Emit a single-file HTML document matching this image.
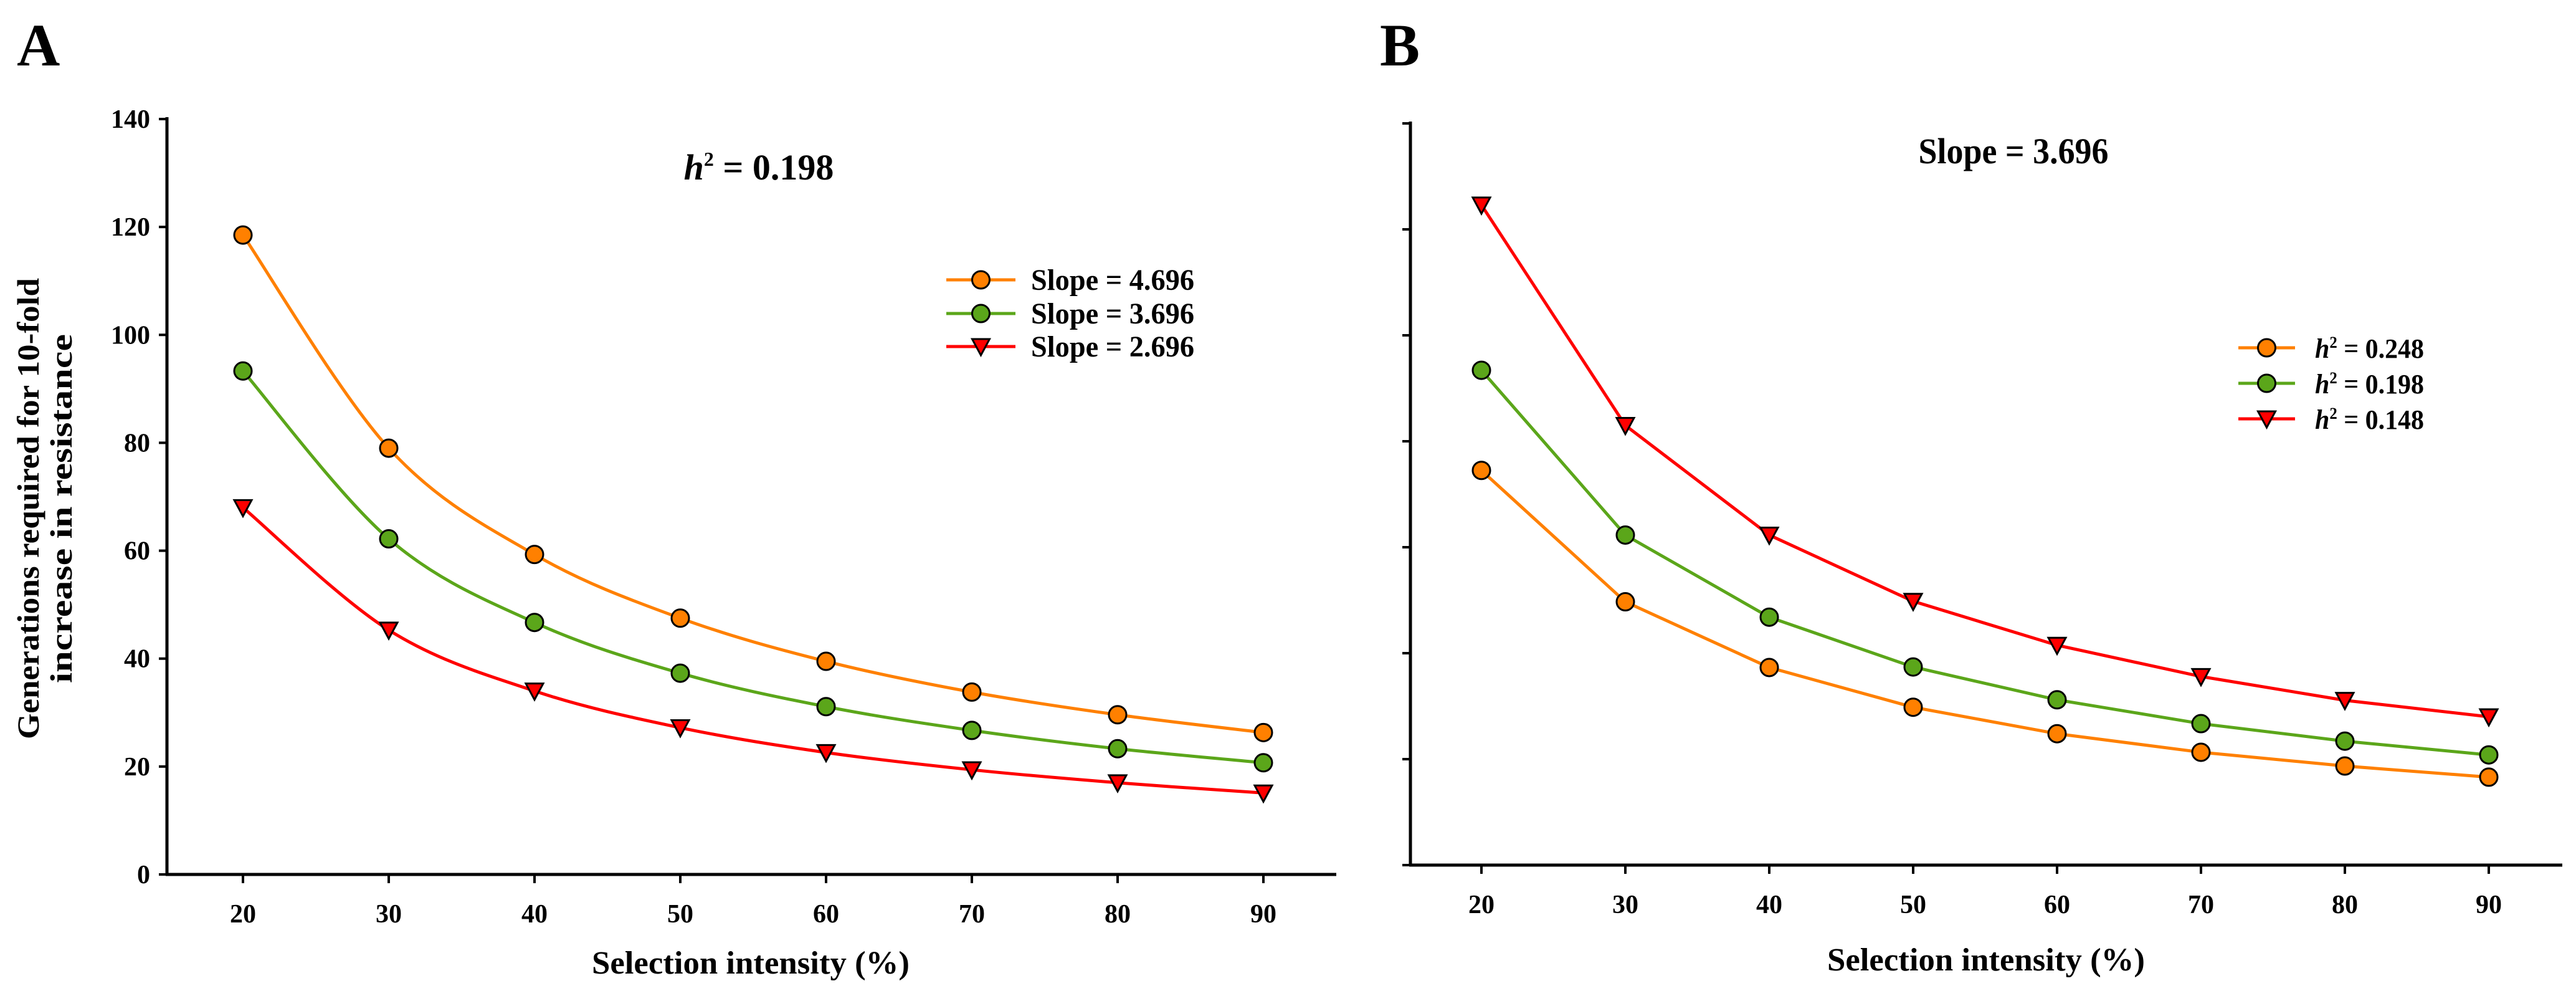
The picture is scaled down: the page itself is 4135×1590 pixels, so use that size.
<!DOCTYPE html>
<html><head><meta charset="utf-8"><style>
html,body{margin:0;padding:0;background:#fff;}
svg{display:block;font-family:"Liberation Serif",serif;font-weight:bold;}
</style></head><body>
<svg id="chart" width="4135" height="1590" viewBox="0 0 4135 1590" xmlns="http://www.w3.org/2000/svg"></svg>
<script>
const categories=[20,30,40,50,60,70,80,90];
const yTicks=[0,20,40,60,80,100,120,140];
const aOrange=[118.5,79.0,59.3,47.5,39.5,33.8,29.6,26.3];
const aGreen=[93.3,62.2,46.7,37.3,31.1,26.7,23.3,20.7];
const aRed=[68.0,45.3,34.0,27.2,22.6,19.4,17.0,15.1];
const bOrange=[74.5,49.7,37.3,29.8,24.8,21.3,18.7,16.6];
const bGreen=[93.4,62.3,46.8,37.4,31.2,26.7,23.4,20.8];
const bRed=[124.6,83.0,62.3,49.8,41.5,35.6,31.1,28.0];
const legendA=["Slope = 4.696","Slope = 3.696","Slope = 2.696"];
const legendB=["0.248","0.198","0.148"];
const ORANGE="#FF8000",GREEN="#5BA61A",RED="#FF0000";
const NS="http://www.w3.org/2000/svg";
const svg=document.getElementById('chart');
function mk(tag,attrs,parent){const e=document.createElementNS(NS,tag);for(const k in attrs)e.setAttribute(k,attrs[k]);(parent||svg).appendChild(e);return e;}

function panel(p){
  const g=mk('g',{});
  
  
  const xs=v=>p.x20+(v-20)*(p.x90-p.x20)/70;
  const ys=v=>p.y0-v*(p.y0-p.y140)/140;
  const ya=mk('line',{x1:p.ax,y1:p.y140-3,x2:p.ax,y2:p.y0+2,stroke:'#000','stroke-width':5},g);
  
  
  const xa=mk('line',{x1:p.ax-2,y1:p.y0,x2:p.xend,y2:p.y0,stroke:'#000','stroke-width':5},g);
  
  
  yTicks.forEach(t=>{
    const tk=mk('line',{x1:p.ax-13,y1:ys(t),x2:p.ax,y2:ys(t),stroke:'#000','stroke-width':4},g);
    
    
    if(p.labels){
      const tl=mk('text',{x:p.ax-27,y:ys(t)+14,'text-anchor':'end','font-size':42},g);
      tl.textContent=t;
      
      
    }
  });
  categories.forEach(c=>{
    const tk=mk('line',{x1:xs(c),y1:p.y0,x2:xs(c),y2:p.y0+14,stroke:'#000','stroke-width':4},g);
    
    
    const tl=mk('text',{x:xs(c),y:p.y0+77,'text-anchor':'middle','font-size':42},g);
    tl.textContent=c;
    
    
  });
  const xt=mk('text',{x:p.xtx,y:p.xty,'text-anchor':'middle','font-size':52,textLength:510,lengthAdjust:'spacingAndGlyphs'},g);
  xt.textContent='Selection intensity (%)';
  
  
  p.series.forEach((s,si)=>{
    const pts=categories.map((c,i)=>[xs(c),ys(s.vals[i])]);
    let d='M'+pts[0][0]+','+pts[0][1];
    for(let i=0;i<pts.length-1;i++){
      if(p.smooth){
        const p0=pts[Math.max(0,i-1)],p1=pts[i],p2=pts[i+1],p3=pts[Math.min(pts.length-1,i+2)];
        const c1=[p1[0]+(p2[0]-p0[0])/6,p1[1]+(p2[1]-p0[1])/6];
        const c2=[p2[0]-(p3[0]-p1[0])/6,p2[1]-(p3[1]-p1[1])/6];
        d+=' C'+c1[0]+','+c1[1]+' '+c2[0]+','+c2[1]+' '+p2[0]+','+p2[1];
      } else d+=' L'+pts[i+1][0]+','+pts[i+1][1];
    }
    const ln=mk('path',{d:d,fill:'none',stroke:s.color,'stroke-width':5},g);
    
    
    pts.forEach(pt=>marker(g,pt[0],pt[1],s));
    const ly=p.legY[si];
    const ll=mk('line',{x1:p.legX,y1:ly,x2:p.legX+p.legW,y2:ly,stroke:s.color,'stroke-width':5},g);
    
    
    marker(g,p.legX+p.legW/2,ly,s);
    const lt=mk('text',{x:p.legTX,y:ly+16,'font-size':p.legFont,textLength:p.legTL,lengthAdjust:'spacingAndGlyphs'},g);
    
    
    if(p.hLegend){
      const a=mk('tspan',{'font-style':'italic'},lt);a.textContent='h';
      const b=mk('tspan',{dy:-16,'font-size':26},lt);b.textContent='2';
      const c=mk('tspan',{dy:16},lt);c.textContent=' = '+s.label;
    } else lt.textContent=s.label;
  });
}
function marker(g,x,y,s){
  let m;
  if(s.tri){
    m=mk('path',{d:`M${x-14},${y-12} L${x+14},${y-12} L${x},${y+14} Z`,fill:s.color,stroke:'#000','stroke-width':3},g);
  } else m=mk('circle',{cx:x,cy:y,r:14,fill:s.color,stroke:'#000','stroke-width':3},g);
  
  
}

panel({name:'panel-a',ax:268,xend:2145,y0:1403,y140:191,x20:390,x90:2028,labels:true,smooth:true,
  xtx:1205,xty:1562,legX:1519,legW:111,legTX:1655,legY:[449,503,556],legFont:48,legTL:262,hLegend:false,
  series:[{key:'slope-4696',vals:aOrange,color:ORANGE,label:legendA[0]},
          {key:'slope-3696',vals:aGreen,color:GREEN,label:legendA[1]},
          {key:'slope-2696',vals:aRed,color:RED,tri:true,label:legendA[2]}]});
panel({name:'panel-b',ax:2264,xend:4113,y0:1388,y140:198,x20:2378,x90:3995,labels:false,smooth:false,
  xtx:3188,xty:1557,legX:3593,legW:91,legTX:3716,legY:[558,615,672],legFont:44,legTL:175,hLegend:true,
  series:[{key:'h2-0248',vals:bOrange,color:ORANGE,label:legendB[0]},
          {key:'h2-0198',vals:bGreen,color:GREEN,label:legendB[1]},
          {key:'h2-0148',vals:bRed,color:RED,tri:true,label:legendB[2]}]});

const yt=mk('text',{transform:'translate(62,816) rotate(-90)','text-anchor':'middle','font-size':50,textLength:740,lengthAdjust:'spacingAndGlyphs'});
yt.textContent='Generations required for 10-fold';


const yt2=mk('text',{transform:'translate(115,816) rotate(-90)','text-anchor':'middle','font-size':50,textLength:560,lengthAdjust:'spacingAndGlyphs'});
yt2.textContent='increase in resistance';



const ta=mk('text',{x:1218,y:288,'text-anchor':'middle','font-size':58});


{const a=mk('tspan',{'font-style':'italic'},ta);a.textContent='h';const b=mk('tspan',{dy:-22,'font-size':32},ta);b.textContent='2';const c=mk('tspan',{dy:22},ta);c.textContent=' = 0.198';}
const tb=mk('text',{x:3232,y:262,'text-anchor':'middle','font-size':58,textLength:305,lengthAdjust:'spacingAndGlyphs'});
tb.textContent='Slope = 3.696';



const la=mk('text',{x:27,y:105,'font-size':96});
la.textContent='A';


const lb=mk('text',{x:2215,y:105,'font-size':96});
lb.textContent='B';


</script>
</body></html>
